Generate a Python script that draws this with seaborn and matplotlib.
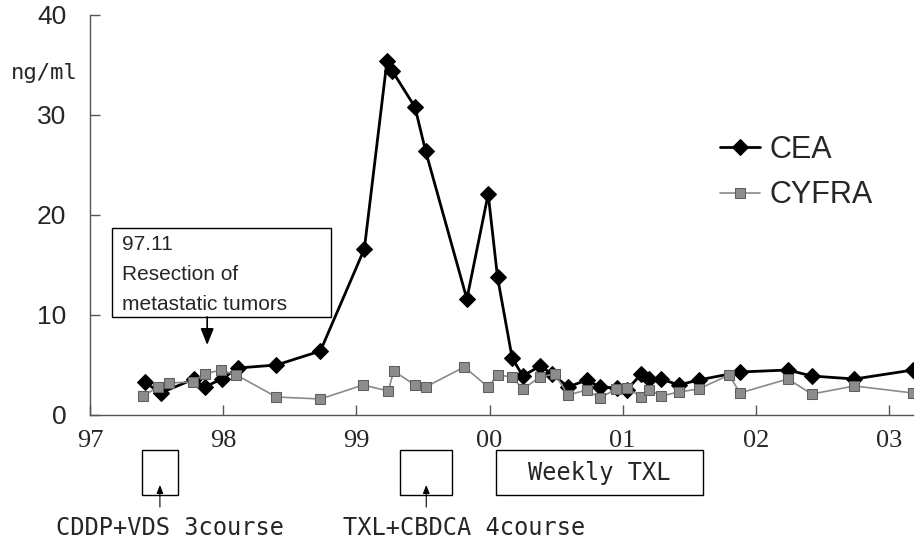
import matplotlib
matplotlib.use("Agg")
import matplotlib.pyplot as plt
import matplotlib.transforms as mtransforms
from matplotlib.patches import Rectangle
import seaborn as sns

# --- data (x = year, 97 = 1997, 100 = 2000) ---
cea_year = [97.41, 97.53, 97.78, 97.86, 97.99, 98.11, 98.40, 98.73, 99.06, 99.23,
            99.27, 99.44, 99.52, 99.83, 99.99, 100.06, 100.17, 100.25, 100.38, 100.47,
            100.59, 100.73, 100.83, 100.96, 101.03, 101.14, 101.20, 101.29, 101.42, 101.57,
            101.88, 102.24, 102.42, 102.74, 103.18]
cea = [3.3, 2.2, 3.6, 2.8, 3.6, 4.7, 5.0, 6.4, 16.6, 35.4,
       34.4, 30.8, 26.4, 11.6, 22.1, 13.8, 5.7, 3.9, 4.9, 4.1,
       2.8, 3.5, 2.8, 2.7, 2.5, 4.1, 3.6, 3.6, 3.0, 3.5,
       4.3, 4.5, 3.9, 3.6, 4.5]

cyfra_year = [97.40, 97.51, 97.59, 97.77, 97.86, 97.98, 98.10, 98.40, 98.73, 99.05,
              99.24, 99.28, 99.44, 99.52, 99.81, 99.99, 100.06, 100.17, 100.25, 100.38,
              100.49, 100.59, 100.73, 100.83, 100.95, 101.03, 101.14, 101.20, 101.29, 101.42,
              101.57, 101.80, 101.88, 102.24, 102.42, 102.74, 103.18]
cyfra = [1.9, 2.8, 3.2, 3.3, 4.1, 4.5, 4.0, 1.8, 1.6, 3.0,
         2.4, 4.4, 3.0, 2.8, 4.8, 2.8, 4.0, 3.8, 2.6, 3.8,
         4.1, 2.0, 2.5, 1.7, 2.6, 2.7, 1.8, 2.5, 1.9, 2.3,
         2.6, 4.0, 2.2, 3.6, 2.1, 2.9, 2.2]

year_ticks = [97, 98, 99, 100, 101, 102, 103]
year_labels = ["97", "98", "99", "00", "01", "02", "03"]
y_ticks = [0, 10, 20, 30, 40]

# treatment periods (start, end) in years
cddp_period = (97.39, 97.66)
txl_cbdca_period = (99.33, 99.72)
weekly_txl_period = (100.05, 101.60)
resection_year = 97.88
resection_lines = ["97.11", "Resection of", "metastatic tumors"]

sns.set_style("white")
plt.rcParams["font.family"] = ["Liberation Sans", "DejaVu Sans"]
mono = "DejaVu Sans Mono"

fig = plt.figure(figsize=(9.21, 5.47), dpi=100)
ax = fig.add_axes([90 / 921, 1 - 415 / 547, 823 / 921, 400 / 547])

sns.lineplot(x=cea_year, y=cea, ax=ax, color="black", lw=2, marker="D",
             markersize=8, markeredgecolor="black", sort=False, label="CEA")
sns.lineplot(x=cyfra_year, y=cyfra, ax=ax, color="#8a8a8a", lw=1.2, marker="s",
             markersize=7, markerfacecolor="#8c8c8c", markeredgecolor="#5e5e5e",
             sort=False, label="CYFRA")

ax.set_xlim(97, 103.18)
ax.set_ylim(0, 40)
ax.set_xticks(year_ticks)
ax.set_xticklabels(year_labels, family="Liberation Serif", fontsize=19)
ax.set_yticks(y_ticks)
ax.set_yticklabels([str(v) for v in y_ticks], fontsize=19)
ax.tick_params(axis="x", bottom=True, direction="in", length=7, width=1, pad=11,
               color="#555555")
ax.tick_params(axis="y", left=True, direction="in", length=7, width=1, pad=17,
               color="#555555")
for side in ["top", "right"]:
    ax.spines[side].set_visible(False)
for side in ["left", "bottom"]:
    ax.spines[side].set_color("#555555")
    ax.spines[side].set_linewidth(1)

fig.text(44 / 921, 1 - 73 / 547, "ng/ml", family=mono, fontsize=16,
         ha="center", va="center")

leg = ax.legend(loc="upper left", bbox_to_anchor=(0.766, 0.70), frameon=False,
                fontsize=22, handlelength=1.3, handletextpad=0.3,
                labelspacing=0.5, borderpad=0, borderaxespad=0)

# resection annotation box with arrow
ax.add_patch(Rectangle((97.165, 9.8), 1.645, 8.9, fill=False, ec="black", lw=1,
                       zorder=3))
for line, yv in zip(resection_lines, [17.0, 14.1, 11.0]):
    ax.text(97.24, yv, line, fontsize=15, ha="left", va="center")
ax.annotate("", xy=(resection_year, 7.0), xytext=(resection_year, 9.8),
            arrowprops=dict(arrowstyle="-|>,head_width=0.4,head_length=1.0",
                            color="black", lw=1.2, shrinkA=0, shrinkB=0))

# treatment boxes under the axis
trans = mtransforms.blended_transform_factory(ax.transData, ax.transAxes)
for (x0, x1) in [cddp_period, txl_cbdca_period, weekly_txl_period]:
    ax.add_patch(Rectangle((x0, -0.2), x1 - x0, 0.1125, transform=trans,
                           fill=False, ec="black", lw=1, clip_on=False))
ax.text(sum(weekly_txl_period) / 2, -0.144, "Weekly TXL", transform=trans,
        family=mono, fontsize=17, ha="center", va="center")

for (x0, x1) in [cddp_period, txl_cbdca_period]:
    xm = (x0 + x1) / 2
    ax.annotate("", xy=(xm, -0.175), xytext=(xm, -0.23),
                xycoords=trans, textcoords=trans, annotation_clip=False,
                arrowprops=dict(arrowstyle="-|>,head_width=0.2,head_length=0.5",
                                color="black", lw=0.8, shrinkA=0, shrinkB=0))

fig.text(170 / 921, 1 - 528 / 547, "CDDP+VDS 3course", family=mono,
         fontsize=17, ha="center", va="center")
fig.text(464 / 921, 1 - 528 / 547, "TXL+CBDCA 4course", family=mono,
         fontsize=17, ha="center", va="center")

fig.savefig("out.png", dpi=100)
